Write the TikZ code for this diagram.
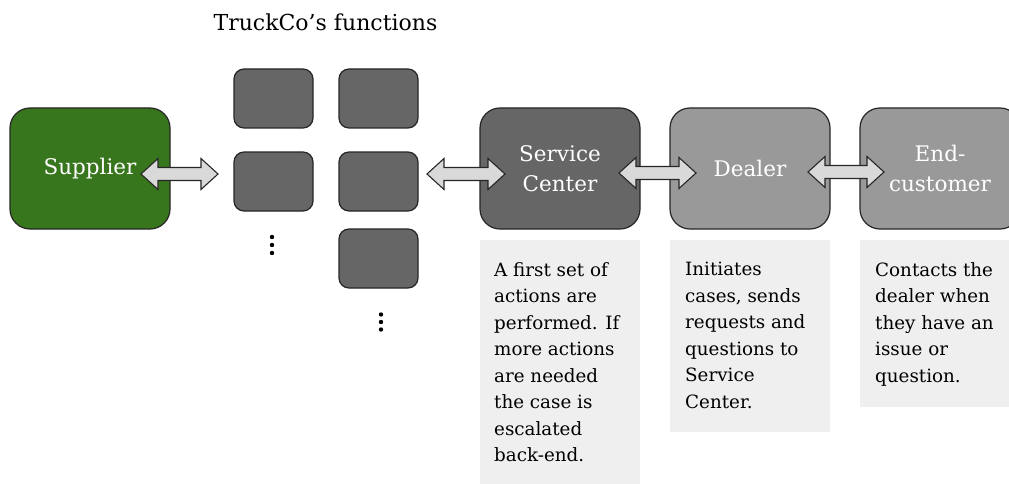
\documentclass[tikz,border=0pt]{standalone}
\usepackage{fontspec}
\setmainfont{DejaVu Serif}
\usetikzlibrary{calc}
\definecolor{supgreen}{HTML}{38761D}
\definecolor{darkbox}{HTML}{666666}
\definecolor{midbox}{HTML}{999999}
\definecolor{descbg}{HTML}{EFEFEF}
\definecolor{arrowfill}{HTML}{D9D9D9}
\tikzset{
 bigbox/.style={draw=black!85, line width=1.2pt, rounded corners=20pt, minimum width=160pt, minimum height=121pt, text=white, align=center, font=\fontsize{21.5}{30}\selectfont, inner sep=0pt},
 funcbox/.style={draw=black!85, line width=1.2pt, rounded corners=10pt, fill=darkbox, minimum width=79pt, minimum height=59pt, inner sep=0pt},
 descbox/.style={fill=descbg, inner sep=0pt, minimum width=160pt, anchor=north west},
 desctext/.style={anchor=north west, align=left, inner sep=0pt, font=\fontsize{18.3}{26.5}\selectfont, text=black},
 dbl/.style={fill=arrowfill, draw=black!85, line width=1.1pt, line join=miter},
 dotmark/.style={circle, fill=black, inner sep=0pt, minimum size=4.4pt}
}
\newcommand\dblarrow[2]{%
 \filldraw[dbl] let \p1=(#1), \p2=(#2) in
 (\x1,\y1) -- (\x1+17pt,\y1+15.5pt) -- (\x1+17pt,\y1+6.5pt) -- (\x2-17pt,\y1+6.5pt) -- (\x2-17pt,\y1+15.5pt) -- (\x2,\y1) -- (\x2-17pt,\y1-15.5pt) -- (\x2-17pt,\y1-6.5pt) -- (\x1+17pt,\y1-6.5pt) -- (\x1+17pt,\y1-15.5pt) -- cycle;}
\begin{document}
\begin{tikzpicture}[x=1pt,y=-1pt]
\useasboundingbox (0,0) rectangle (1009,484);
\clip (0,0) rectangle (1009,484);
\fill[white] (0,0) rectangle (1009,484);
% title
\node[font=\fontsize{22}{26}\selectfont] (title) at (325.5,22) {TruckCo’s functions};
% main boxes
\node[bigbox, fill=supgreen] (sup) at (90,168.5) {Supplier};
\node[bigbox, fill=darkbox] (sc) at (560,168.5) {Service\\Center};
\node[bigbox, fill=midbox] (dealer) at (750,168.5) {Dealer};
\node[bigbox, fill=midbox] (endc) at (940,168.5) {End-\\customer};
% function boxes
\node[funcbox] (f11) at (273.5,98.5) {};
\node[funcbox] (f12) at (378.5,98.5) {};
\node[funcbox] (f21) at (273.5,181.5) {};
\node[funcbox] (f22) at (378.5,181.5) {};
\node[funcbox] (f32) at (378.5,258.5) {};
% dots
\node[dotmark] (d1a) at (272,237) {};
\node[dotmark] (d1b) at (272,245) {};
\node[dotmark] (d1c) at (272,253) {};
\node[dotmark] (d2a) at (381,314.5) {};
\node[dotmark] (d2b) at (381,322) {};
\node[dotmark] (d2c) at (381,329.5) {};
% arrows
\coordinate (a1l) at (141,174); \coordinate (a1r) at (218,174);
\coordinate (a2l) at (427,174); \coordinate (a2r) at (505,174);
\coordinate (a3l) at (619,173); \coordinate (a3r) at (696,173);
\coordinate (a4l) at (808,172); \coordinate (a4r) at (884,172);
\dblarrow{a1l}{a1r}
\dblarrow{a2l}{a2r}
\dblarrow{a3l}{a3r}
\dblarrow{a4l}{a4r}
% description boxes
\node[descbox, minimum height=250pt] (scd) at (480,240) {};
\node[descbox, minimum height=192pt] (dd) at (670,240) {};
\node[descbox, minimum height=167pt] (ed) at (860,240) {};
\node[desctext] (sct) at (494,262) {A first set of\\actions are\\performed. If\\more actions\\are needed\\the case is\\escalated\\back-end.};
\node[desctext] (dt) at (685,262) {Initiates\\cases, sends\\requests and\\questions to\\Service\\Center.};
\node[desctext] (et) at (875,262) {Contacts the\\dealer when\\they have an\\issue or\\question.};
\end{tikzpicture}
\end{document}
